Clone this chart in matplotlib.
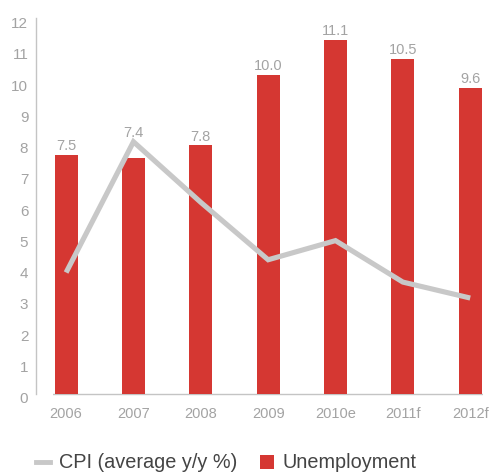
import matplotlib
matplotlib.use("Agg")
import matplotlib.pyplot as plt
from matplotlib.lines import Line2D
from matplotlib.patches import Patch

plt.rcParams["font.family"] = ["Liberation Sans", "DejaVu Sans"]

# ---------------------------------------------------------
# data
# ---------------------------------------------------------
years = ["2006", "2007", "2008", "2009", "2010e", "2011f", "2012f"]
unemployment = [7.5, 7.4, 7.8, 10.0, 11.1, 10.5, 9.6]
cpi = [3.8, 7.9, 6.0, 4.2, 4.8, 3.5, 3.0]
y_ticks = list(range(0, 13))

RED = "#d53732"
LINE_GREY = "#c8c8c8"
TEXT_GREY = "#a3a3a3"
AXIS_GREY = "#c4c4c4"

# ---------------------------------------------------------
# figure
# ---------------------------------------------------------
fig = plt.figure(figsize=(4.9, 4.72), dpi=100)
pos = [53.3 / 490, 1 - 397.7 / 472, (483 - 53.3) / 490, 379.7 / 472]
ax = fig.add_axes(pos)

x = list(range(len(years)))
ax.bar(x, unemployment, width=0.34, color=RED, zorder=2)
ax.plot(x, cpi, color=LINE_GREY, linewidth=3.7, solid_joinstyle="miter",
        solid_capstyle="butt", zorder=3)
ax.axhline(0, color=AXIS_GREY, linewidth=1.0, zorder=1)

for i, v in enumerate(unemployment):
    dy = 18 if years[i] == "2007" else 6
    ax.annotate(f"{v:.1f}", (i, v), xytext=(0, dy), textcoords="offset points",
                ha="center", va="center", fontsize=10.5, color=TEXT_GREY,
                zorder=4)

ax.set_xlim(-0.19, 6.19)
ax.set_ylim(-0.125, 11.78)
ax.set_xticks(x)
ax.set_xticklabels(years)
ax.tick_params(axis="x", length=0, pad=7, labelsize=10.5, labelcolor=TEXT_GREY)
ax.set_yticks([])
for s in ax.spines.values():
    s.set_visible(False)

# value scale on the left, drawn on its own transparent axes
ax2 = fig.add_axes(pos, facecolor="none")
ax2.set_ylim(0, 12.15)
ax2.set_xticks([])
ax2.set_yticks(y_ticks)
ax2.tick_params(axis="y", length=0, pad=5.5, labelsize=11, labelcolor=TEXT_GREY)
for side in ["top", "right", "bottom"]:
    ax2.spines[side].set_visible(False)
ax2.spines["left"].set_position(("outward", 12.5))
ax2.spines["left"].set_bounds(0.12, 12.15)
ax2.spines["left"].set_color(AXIS_GREY)
ax2.spines["left"].set_linewidth(1.0)

handles = [
    Line2D([0], [0], color=LINE_GREY, linewidth=3.5),
    Patch(facecolor=RED, edgecolor="none"),
]
fig.legend(handles, ["CPI (average y/y %)", "Unemployment"],
           loc="center left", bbox_to_anchor=(36 / 490, 1 - 463 / 472),
           ncol=2, frameon=False, fontsize=14.3, handlelength=0.72,
           handletextpad=0.42, columnspacing=1.15, borderpad=0,
           borderaxespad=0, labelcolor="#444444")

fig.savefig("out.png", dpi=100)
